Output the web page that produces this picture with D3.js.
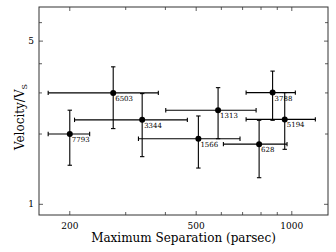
<!DOCTYPE html>
<html>
<head>
<meta charset="utf-8">
<script src="https://cdn.jsdelivr.net/npm/d3@7"></script>
<style>
  body { margin: 0; background: #fff; }
  svg { display: block; }
  text { font-family: "DejaVu Serif", serif; fill: #000; }
</style>
</head>
<body>
<div id="chart"></div>
<script>
// cluster ids and values
var ids    = ['7793', '6503', '3344', '1313', '3788', '5194', '1566', '628'];
var sep    = [200, 274, 338, 586, 870, 950, 508, 789];
var sepLo  = [171, 171, 207, 401, 718, 718, 329, 609];
var sepHi  = [231, 380, 469, 772, 1026, 1186, 687, 966];
var vel    = [2.0, 3.0, 2.3, 2.53, 3.01, 2.31, 1.91, 1.81];
var velLo  = [1.47, 2.11, 1.6, 1.91, 2.29, 1.72, 1.43, 1.30];
var velHi  = [2.53, 3.88, 2.98, 3.16, 3.72, 3.01, 2.39, 2.29];
var xTicks = [200, 300, 400, 500, 600, 700, 800, 900, 1000];
var xLabels = [200, 500, 1000];
var yTicks = [1, 2, 3, 4, 5, 6];
var yLabels = [1, 5];

var W = 336, H = 252;
var margin = {top: 7, right: 8, bottom: 37, left: 39};
var width = W - margin.left - margin.right,
    height = H - margin.top - margin.bottom;

var svg = d3.select("#chart").append("svg")
    .attr("width", W)
    .attr("height", H);
var g = svg.append("g")
    .attr("transform", "translate(" + margin.left + "," + margin.top + ")");

var x = d3.scaleLog().domain([160, 1300]).range([0, width]);
var y = d3.scaleLog().domain([0.9, 7]).range([height, 0]);

// ticks pointing inward on all four sides
function tickLen(v, labels) { return labels.indexOf(v) >= 0 ? 4 : 3; }
xTicks.forEach(function(v) {
  var len = tickLen(v, xLabels);
  g.append("line").attr("x1", x(v)).attr("x2", x(v)).attr("y1", height).attr("y2", height - len)
    .attr("stroke", "#333").attr("stroke-width", 0.8);
  g.append("line").attr("x1", x(v)).attr("x2", x(v)).attr("y1", 0).attr("y2", len)
    .attr("stroke", "#333").attr("stroke-width", 0.8);
});
yTicks.forEach(function(v) {
  var len = tickLen(v, yLabels);
  g.append("line").attr("y1", y(v)).attr("y2", y(v)).attr("x1", 0).attr("x2", len)
    .attr("stroke", "#333").attr("stroke-width", 0.8);
  g.append("line").attr("y1", y(v)).attr("y2", y(v)).attr("x1", width).attr("x2", width - len)
    .attr("stroke", "#333").attr("stroke-width", 0.8);
});
xLabels.forEach(function(v) {
  g.append("text").attr("x", x(v)).attr("y", height + 14)
    .attr("text-anchor", "middle").attr("font-size", 9).text(v);
});
yLabels.forEach(function(v) {
  g.append("text").attr("x", -5).attr("y", y(v) + 3)
    .attr("text-anchor", "end").attr("font-size", 9).text(v);
});

// frame
g.append("rect").attr("width", width).attr("height", height)
  .attr("fill", "none").attr("stroke", "#333").attr("stroke-width", 1);

// error bars
var cap = 2.2;
ids.forEach(function(id, i) {
  var cx = x(sep[i]), cy = y(vel[i]);
  var bars = g.append("g").attr("stroke", "#000").attr("stroke-width", 1.1);
  bars.append("line").attr("x1", x(sepLo[i])).attr("x2", x(sepHi[i])).attr("y1", cy).attr("y2", cy);
  bars.append("line").attr("x1", x(sepLo[i])).attr("x2", x(sepLo[i])).attr("y1", cy - cap).attr("y2", cy + cap);
  bars.append("line").attr("x1", x(sepHi[i])).attr("x2", x(sepHi[i])).attr("y1", cy - cap).attr("y2", cy + cap);
  bars.append("line").attr("x1", cx).attr("x2", cx).attr("y1", y(velLo[i])).attr("y2", y(velHi[i]));
  bars.append("line").attr("x1", cx - cap).attr("x2", cx + cap).attr("y1", y(velLo[i])).attr("y2", y(velLo[i]));
  bars.append("line").attr("x1", cx - cap).attr("x2", cx + cap).attr("y1", y(velHi[i])).attr("y2", y(velHi[i]));
});

ids.forEach(function(id, i) {
  var cx = x(sep[i]), cy = y(vel[i]);
  g.append("circle").attr("cx", cx).attr("cy", cy).attr("r", 3).attr("fill", "#000");
  g.append("text").attr("x", cx + 2).attr("y", cy + 8).attr("font-size", 7).text(id);
});

// axis titles
svg.append("text").attr("x", margin.left + width / 2).attr("y", 242)
  .attr("text-anchor", "middle").attr("font-size", 12).text("Maximum Separation (parsec)");
var yt = svg.append("text")
  .attr("transform", "translate(24," + (margin.top + height / 2 + 6) + ") rotate(-90)")
  .attr("text-anchor", "middle").attr("font-size", 12);
yt.append("tspan").text("Velocity/V");
yt.append("tspan").attr("font-size", 8).attr("dy", 3).text("S");
</script>
</body>
</html>
